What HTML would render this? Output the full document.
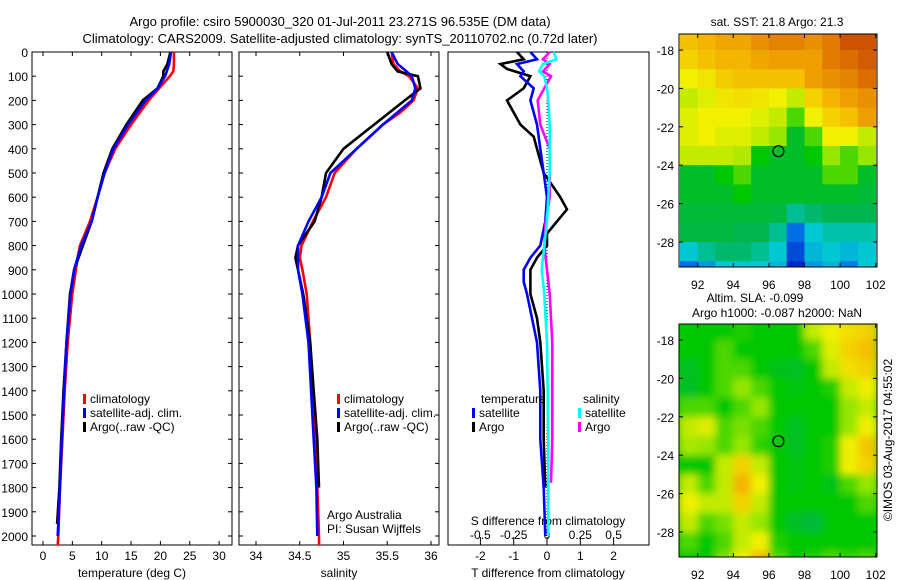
<!DOCTYPE html>
<html><head><meta charset="utf-8"><style>
body{margin:0;background:#fff;}
svg{display:block;font-family:"Liberation Sans",sans-serif;}
</style></head><body>
<svg id="chart" width="900" height="580" xmlns="http://www.w3.org/2000/svg">
<defs>
<filter id="blur" x="0" y="0" width="1" height="1"><feGaussianBlur stdDeviation="4"/></filter>
<clipPath id="clipm1"><rect x="679" y="34" width="198" height="233"/></clipPath>
<clipPath id="clipm2"><rect x="679" y="324" width="198" height="233"/></clipPath>
</defs>
<text x="340" y="26" text-anchor="middle" font-size="13">Argo profile: csiro 5900030_320 01-Jul-2011 23.271S 96.535E (DM data)</text>
<text x="340" y="43" text-anchor="middle" font-size="13">Climatology: CARS2009. Satellite-adjusted climatology: synTS_20110702.nc (0.72d later)</text>
<g id="g"></g>
</svg>
<script>
// ---- data ----
const depthTicks=[0,100,200,300,400,500,600,700,800,900,1000,1100,1200,1300,1400,1500,1600,1700,1800,1900,2000];
const tempTicks=[0,5,10,15,20,25,30];
const salTicks=[34,34.5,35,35.5,36];
const tdiffTicks=[-2,-1,0,1,2];
const sdiffTicks=[-0.5,-0.25,0,0.25,0.5];
const sdiffLabels=["-0.5","-0.25","0","0.25","0.5"];
const lonTicks=[92,94,96,98,100,102];
const latTicks=[-18,-20,-22,-24,-26,-28];

const tClimD=[0,50,80,100,150,200,300,400,500,600,700,800,850,900,1000,1200,1400,1600,1800,2000,2040];
const tClimV=[22.3,22.3,22.2,21.6,19.8,18,15,12.3,10.5,9.3,8,6.3,5.9,5.6,5,4.2,3.7,3.3,2.9,2.6,2.5];
const tSatD=[0,50,100,150,200,300,400,500,600,700,800,900,1000,1200,1400,1600,1800,2000];
const tSatV=[21.8,21.5,20.8,19.5,17.5,14.5,12,10.5,9.3,8.3,6.5,5.3,4.7,4,3.6,3.2,2.9,2.5];
const tArgoD=[0,50,80,100,150,200,300,400,500,600,700,800,900,1000,1200,1400,1600,1800,1950];
const tArgoV=[21.7,21.2,20.5,20.5,19.5,17,14.2,11.8,10.3,9.3,8.3,6.8,5.3,4.6,4,3.5,3.1,2.8,2.4];

const sClimD=[0,50,80,100,150,200,250,300,400,500,600,700,800,850,900,1000,1200,1400,1600,1800,2000,2040];
const sClimV=[35.55,35.57,35.65,35.75,35.85,35.8,35.65,35.45,35.15,34.9,34.8,34.65,34.52,34.5,34.53,34.58,34.62,34.65,34.68,34.7,34.72,34.72];
const sSatD=[0,50,80,100,150,200,300,400,500,600,700,800,900,1000,1200,1400,1600,1800,2000];
const sSatV=[35.55,35.62,35.72,35.78,35.82,35.78,35.45,35.15,34.85,34.75,34.6,34.48,34.48,34.53,34.6,34.63,34.66,34.69,34.7];
const sArgoD=[0,50,80,100,150,200,300,400,500,600,700,800,850,900,1000,1200,1400,1600,1800];
const sArgoV=[35.5,35.55,35.62,35.85,35.88,35.7,35.35,35.0,34.8,34.75,34.67,34.48,34.45,34.48,34.54,34.62,34.66,34.7,34.72];

const dtSatD=[0,30,50,80,100,150,200,300,400,500,600,700,800,850,900,950,1000,1200,1400,1600,1800,2000];
const dtSatV=[-0.5,-0.3,-0.9,-0.7,-0.8,-0.4,-0.5,-0.3,-0.2,-0.1,0,-0.05,-0.2,-0.5,-0.7,-0.7,-0.6,-0.3,-0.2,-0.2,-0.1,-0.05];
const dtArgoD=[0,30,50,70,100,150,200,250,300,350,400,500,600,650,700,750,800,850,900,1000,1100,1200,1400,1600,1800];
const dtArgoV=[-0.9,-0.7,-1.4,-1.2,-0.5,-0.7,-1.2,-1.0,-0.8,-0.4,-0.3,-0.1,0.4,0.6,0.3,0,0,-0.3,-0.5,-0.5,-0.3,-0.2,-0.1,-0.1,-0.05];
const dsSatD=[0,30,50,80,100,150,200,300,400,500,600,700,800,900,1000,1200,1600,2000];
const dsSatV=[0.05,0.07,-0.03,-0.06,-0.02,0,0.01,0.02,0.02,0.02,0.01,0,-0.02,-0.04,-0.02,0,0.01,0.01];
const dsArgoD=[0,30,50,80,100,150,200,250,300,400,500,600,700,800,900,1000,1200,1400,1600,1780];
const dsArgoV=[0.02,-0.03,0.02,-0.03,0.03,-0.02,-0.07,-0.06,-0.05,0.02,0.02,0.02,-0.01,-0.02,0,0.02,0.04,0.04,0.04,0.03];

const sstGrid=[
[7.8,8,8.2,8.2,8.5,8.7,8.7,8.5,8.8,9.3,9.3],
[7.5,7.8,8,8,8.2,8.3,8.3,8.3,8.8,9,9.2],
[7,7.2,7.6,7.8,7.8,7.8,7.8,8.3,8.5,8.7,9],
[6.5,6.8,7.2,7.3,7.2,7,6.5,7.5,8,8.3,8.5],
[6.8,7,7,7,6.8,6.5,5.5,7,7.5,7.8,8.3],
[6.8,7,6.8,6.8,6.5,6,4.5,5.5,7,7,6.5],
[6.5,6.5,6.5,6.3,5,4.5,4.5,5,6,5.5,6],
[4.5,4.5,5,5.5,4.5,4.5,4.5,4.5,5.5,5.5,4.5],
[4.5,4.5,4.5,5,4.5,4.5,4.5,4.5,4.5,4.5,4.3],
[4.3,4.3,4.3,4.3,4.3,4.2,3.5,3.8,4,4,4],
[4.2,4.2,4.2,4,4,3.5,2,3,3.3,3.3,3.3],
[3,3.5,3.8,3.8,3.5,3,1.5,2.8,3,2.8,3],
[2,2.5,3,3,3,2.8,1,2.5,2.8,2.2,3]];
const slaGrid=[
[5,5,5,5.2,5,5,5,6.5,7,7.3,7.5],
[5,5,5.5,5,5,5,5,5.5,6.8,7.5,7.8],
[4.6,5,5.5,5.5,5,4.7,4.6,5,6.5,7.3,7.5],
[4.5,5,5.5,6,5.5,5,4.8,5,5.2,6.5,7],
[5.5,5.5,5,5.5,6,5,5,5,5,6,6.5],
[6.5,6.8,5.5,5.8,5.5,5,4.6,5,5,6,7],
[6.2,6,5.5,6,5.3,5,4.6,5,5.2,7,7.7],
[5,5,6.5,7.5,6.5,5,4.8,5,5.2,7,7.5],
[6.5,5.5,6.5,8,7,5,4.8,5,4.7,5.5,6],
[7,6.5,6.5,7.5,6.5,5,5,5,5,5,5.5],
[6.5,5.5,5.8,6.5,6,5,4.5,4.3,5,5,5],
[5.5,5,5.5,6.5,7,5.2,5,5,5,5,5],
[5,5,5.8,7,8,5.5,5,5.2,5.5,5.3,5.5]];
const gridLon0=91, gridLat0=-17;
const argoLon=96.535, argoLat=-23.271;

// ---- helpers ----
const NS="http://www.w3.org/2000/svg";
const G=document.getElementById('g');
function mk(tag,attrs,parent,txt){const e=document.createElementNS(NS,tag);for(const k in attrs)e.setAttribute(k,attrs[k]);if(txt!==undefined)e.textContent=txt;(parent||G).appendChild(e);return e;}
const top0=52, pxPer=0.242, bot=545;
const yD=d=>top0+d*pxPer;
const xT=v=>43+v*5.87;
const xS=v=>256+(v-34)*87.5;
const xDT=v=>547+v*33.3;
const xDS=v=>547+v*4*33.3;
const xLon=l=>697.7+(l-92)*17.8;
const yLat=(l,t)=>t+16+( -18-l)*19.2;

function frame(x0,x1,name){
  const r=mk('rect',{x:x0,y:top0,width:x1-x0,height:bot-top0,fill:'none',stroke:'#000','stroke-width':1});
  
  
  depthTicks.forEach(d=>{
    mk('line',{x1:x0,x2:x0+4,y1:yD(d),y2:yD(d),stroke:'#000'});
    mk('line',{x1:x1-4,x2:x1,y1:yD(d),y2:yD(d),stroke:'#000'});
  });
}
function line(ds,vs,xf,color,name){
  let p='';
  for(let i=0;i<ds.length;i++){p+=(i?'L':'M')+xf(vs[i]).toFixed(1)+','+yD(ds[i]).toFixed(1);}
  const e=mk('path',{d:p,fill:'none',stroke:color,'stroke-width':2.6,'stroke-linejoin':'miter'});
  
  
}
function legend(x,y,items,name){
  items.forEach((it,i)=>{
    mk('rect',{x:x,y:y+i*14-9,width:3,height:10,fill:it[0]});
    const t=mk('text',{x:x+7,y:y+i*14,'font-size':12},undefined,it[1]);
    
    
  });
}

// Panel 1
frame(32,232,'temperature-panel');
depthTicks.forEach(d=>{const t=mk('text',{x:28,y:yD(d)+5,'text-anchor':'end','font-size':12},undefined,String(d));});
tempTicks.forEach(v=>{mk('line',{x1:xT(v),x2:xT(v),y1:bot,y2:bot-4,stroke:'#000'});mk('line',{x1:xT(v),x2:xT(v),y1:top0,y2:top0+4,stroke:'#000'});const t=mk('text',{x:xT(v),y:560,'text-anchor':'middle','font-size':12},undefined,String(v));});
mk('text',{x:132,y:577,'text-anchor':'middle','font-size':12,},undefined,'temperature (deg C)');
line(tClimD,tClimV,xT,'#f00','temp-climatology-line');
line(tArgoD,tArgoV,xT,'#000','temp-argo-line');
line(tSatD,tSatV,xT,'#00f','temp-satellite-line');
legend(83,403,[['#f00','climatology'],['#00f','satellite-adj. clim.'],['#000','Argo(..raw -QC)']],'temperature-legend');

// Panel 2
frame(239,439,'salinity-panel');
salTicks.forEach(v=>{mk('line',{x1:xS(v),x2:xS(v),y1:bot,y2:bot-4,stroke:'#000'});mk('line',{x1:xS(v),x2:xS(v),y1:top0,y2:top0+4,stroke:'#000'});const t=mk('text',{x:xS(v),y:560,'text-anchor':'middle','font-size':12},undefined,String(v));});
mk('text',{x:339,y:577,'text-anchor':'middle','font-size':12,},undefined,'salinity');
line(sClimD,sClimV,xS,'#f00','sal-climatology-line');
line(sArgoD,sArgoV,xS,'#000','sal-argo-line');
line(sSatD,sSatV,xS,'#00f','sal-satellite-line');
legend(337,403,[['#f00','climatology'],['#00f','satellite-adj. clim.'],['#000','Argo(..raw -QC)']],'salinity-legend');
mk('text',{x:327,y:519,'font-size':12,},undefined,'Argo Australia');
mk('text',{x:327,y:533,'font-size':12,},undefined,'PI: Susan Wijffels');

// Panel 3
mk('rect',{x:448,y:top0,width:201,height:bot-top0,fill:'none',stroke:'#000',});
mk('line',{x1:547,x2:547,y1:top0,y2:bot,stroke:'#000','stroke-dasharray':'1,2',});
tdiffTicks.forEach(v=>{mk('line',{x1:xDT(v),x2:xDT(v),y1:bot,y2:bot-4,stroke:'#000'});const t=mk('text',{x:xDT(v),y:560,'text-anchor':'middle','font-size':12},undefined,String(v));});
sdiffTicks.forEach((v,i)=>{mk('line',{x1:xDS(v),x2:xDS(v),y1:bot-4,y2:bot-8,stroke:'#000'});const t=mk('text',{x:xDS(v),y:539,'text-anchor':'middle','font-size':12},undefined,sdiffLabels[i]);});
mk('text',{x:548,y:525,'text-anchor':'middle','font-size':12,},undefined,'S difference from climatology');
mk('text',{x:548,y:577,'text-anchor':'middle','font-size':12,},undefined,'T difference from climatology');
line(dtArgoD,dtArgoV,xDT,'#000','tdiff-argo-line');
line(dtSatD,dtSatV,xDT,'#00f','tdiff-satellite-line');
line(dsArgoD,dsArgoV,xDS,'#f0f','sdiff-argo-line');
line(dsSatD,dsSatV,xDS,'#0ff','sdiff-satellite-line');
mk('text',{x:481,y:403,'font-size':12,},undefined,'temperature');
mk('text',{x:583,y:403,'font-size':12,},undefined,'salinity');
legend(472,417,[['#00f','satellite'],['#000','Argo']],'tdiff-legend');
legend(578,417,[['#0ff','satellite'],['#f0f','Argo']],'sdiff-legend');

// Maps
const stops=[[0,[0,0,140]],[1,[0,40,200]],[2,[0,110,230]],[3,[0,200,210]],[4,[0,180,80]],[5,[0,200,0]],[6,[150,230,0]],[7,[240,240,0]],[8,[245,180,0]],[9,[220,110,0]],[10,[170,20,0]]];
function col(v){for(let i=0;i<stops.length-1;i++){const a=stops[i],b=stops[i+1];if(v<=b[0]){const f=Math.max(0,(v-a[0])/(b[0]-a[0]));return 'rgb('+a[1].map((c,k)=>Math.round(c+(b[1][k]-c)*f)).join(',')+')';}}return 'rgb(170,20,0)';}
function map(top,grid,clip,name,blur){
  const g=mk('g',{'clip-path':'url(#'+clip+')'});
  
  
  const inner=mk('g',blur?{filter:'url(#blur)'}:{},g);
  if(blur) mk('rect',{x:670,y:top-10,width:220,height:255,fill:col(5)},inner);
  grid.forEach((row,r)=>row.forEach((v,c)=>{
    const x0=xLon(gridLon0+c),x1=xLon(gridLon0+c+1);
    const y0=yLat(gridLat0-r,top),y1=yLat(gridLat0-r-1,top);
    const e=mk('rect',{x:x0.toFixed(1),y:y0.toFixed(1),width:(x1-x0+0.5).toFixed(1),height:(y1-y0+0.5).toFixed(1),fill:col(v)},inner);
    
    
  }));
  mk('rect',{x:679,y:top,width:198,height:233,fill:'none',stroke:'#000'});
  lonTicks.forEach(l=>{mk('line',{x1:xLon(l),x2:xLon(l),y1:top+233,y2:top+229,stroke:'#000'});mk('line',{x1:xLon(l),x2:xLon(l),y1:top,y2:top+4,stroke:'#000'});const t=mk('text',{x:xLon(l),y:top+255,'text-anchor':'middle','font-size':12},undefined,String(l));});
  latTicks.forEach(l=>{mk('line',{x1:679,x2:683,y1:yLat(l,top),y2:yLat(l,top),stroke:'#000'});mk('line',{x1:873,x2:877,y1:yLat(l,top),y2:yLat(l,top),stroke:'#000'});const t=mk('text',{x:674,y:yLat(l,top)+5,'text-anchor':'end','font-size':12},undefined,String(l));});
  const c=mk('circle',{cx:xLon(argoLon),cy:yLat(argoLat,top),r:5.5,fill:'none',stroke:'#000','stroke-width':1.2});
  
  
}
map(34,sstGrid,'clipm1','sst-map',false);
map(324,slaGrid,'clipm2','sla-map',true);
mk('text',{x:777,y:26,'text-anchor':'middle','font-size':12,},undefined,'sat. SST: 21.8 Argo: 21.3');
mk('text',{x:755,y:302,'text-anchor':'middle','font-size':12,},undefined,'Altim. SLA: -0.099');
mk('text',{x:777,y:317,'text-anchor':'middle','font-size':12,},undefined,'Argo h1000: -0.087 h2000: NaN');
mk('text',{x:0,y:0,'font-size':12,'text-anchor':'middle',transform:'translate(892,440) rotate(-90)',},undefined,'©IMOS 03-Aug-2017 04:55:02');
</script>
</body></html>
